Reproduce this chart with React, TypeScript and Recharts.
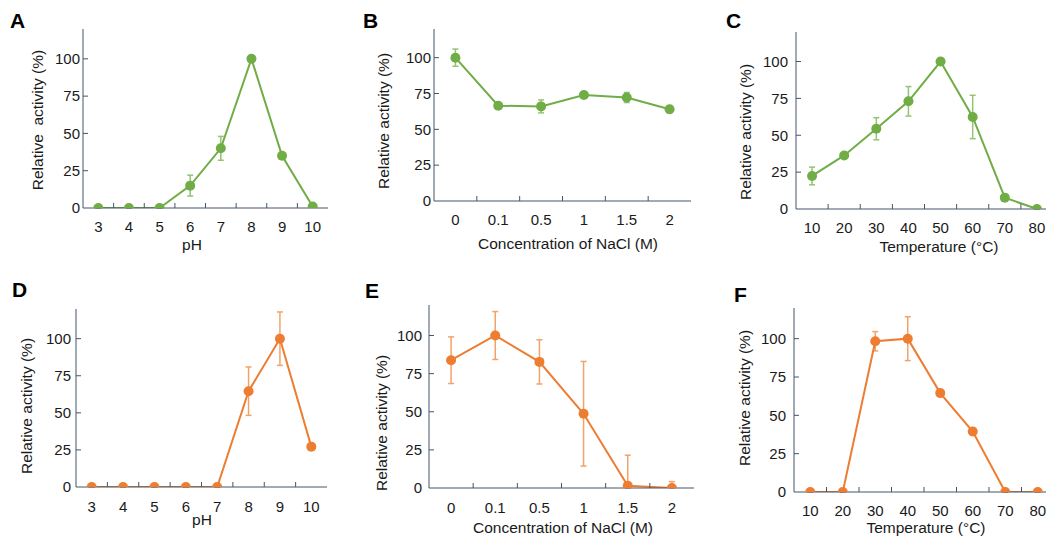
import React from 'react';
import { LineChart, Line, XAxis, YAxis, ErrorBar } from 'recharts';

const GREEN = '#70AD47';
const GREEN_ERR = '#93C472';
const ORANGE = '#ED7D31';
const ORANGE_ERR = '#F2A36B';
const FRAME = '#44546A';
const TEXT = '#1a1a1a';
const FONT = '"Liberation Sans", Arial, sans-serif';

// categories
const phCats = ['3', '4', '5', '6', '7', '8', '9', '10'];
const naclCats = ['0', '0.1', '0.5', '1', '1.5', '2'];
const tempCats = ['10', '20', '30', '40', '50', '60', '70', '80'];
const yTicks = [0, 25, 50, 75, 100];

// series values (relative activity %), error low / high
const aVals = [0, 0, 0, 15, 40, 100, 35, 1];
const aErr = [0, 0, 0, 7, 8, 1, 1, 0];

const bVals = [100, 66.5, 66, 74, 72.2, 64];
const bErr = [6, 1, 4.5, 2, 3.5, 2.5];

const cVals = [22.4, 36.3, 54.4, 73, 100, 62.4, 7.7, 0];
const cErr = [6, 1, 7.5, 10, 2, 14.7, 2, 0];

const dVals = [0, 0, 0, 0, 0, 64.6, 100, 27.2];
const dErr = [0, 0, 0, 0, 0, 16.3, 18, 0];

const eVals = [83.8, 100, 82.7, 48.7, 1.5, 0];
const eErrLow = [15.3, 15.7, 14.5, 34.3, 1.5, 0];
const eErrHigh = [15.3, 15.7, 14.5, 34.3, 20, 4.2];

const fVals = [0, 0, 98.3, 100, 64.5, 39.4, 0, 0];
const fErr = [0, 0, 6.3, 14.3, 1, 2, 0, 0];

const build = (cats: string[], vals: number[], lo: number[], hi: number[]) =>
  cats.map((c, i) => ({ cat: c, v: vals[i], e: [lo[i], hi[i]] }));

type Cfg = {
  letter: string;
  letterPos: [number, number];
  box: [number, number, number, number];
  data: { cat: string; v: number; e: number[] }[];
  color: string;
  errColor: string;
  xTitle: string;
  xTitlePos: [number, number];
  yTitle: string;
  yTitlePos: [number, number];
  xTickMargin: number;
  yTickGap: number;
};

const panels: Cfg[] = [
  {
    letter: 'A', letterPos: [10, 28], box: [83, 29, 328, 208],
    data: build(phCats, aVals, aErr, aErr), color: GREEN, errColor: GREEN_ERR,
    xTitle: 'pH', xTitlePos: [192, 245], yTitle: 'Relative  activity (%)', yTitlePos: [38, 120],
    xTickMargin: 19, yTickGap: 3,
  },
  {
    letter: 'B', letterPos: [363, 28], box: [434, 29, 691, 201],
    data: build(naclCats, bVals, bErr, bErr), color: GREEN, errColor: GREEN_ERR,
    xTitle: 'Concentration of NaCl (M)', xTitlePos: [568, 244], yTitle: 'Relative activity (%)', yTitlePos: [384, 121],
    xTickMargin: 19, yTickGap: 3,
  },
  {
    letter: 'C', letterPos: [726, 28], box: [796, 32, 1053, 209],
    data: build(tempCats, cVals, cErr, cErr), color: GREEN, errColor: GREEN_ERR,
    xTitle: 'Temperature (°C)', xTitlePos: [939, 247], yTitle: 'Relative activity (%)', yTitlePos: [746, 132],
    xTickMargin: 19, yTickGap: 8,
  },
  {
    letter: 'D', letterPos: [12, 297], box: [76, 309, 327, 487],
    data: build(phCats, dVals, dErr, dErr), color: ORANGE, errColor: ORANGE_ERR,
    xTitle: 'pH', xTitlePos: [202, 520], yTitle: 'Relative activity (%)', yTitlePos: [27, 406],
    xTickMargin: 20, yTickGap: 5,
  },
  {
    letter: 'E', letterPos: [365, 298], box: [429, 305, 694, 488],
    data: build(naclCats, eVals, eErrLow, eErrHigh), color: ORANGE, errColor: ORANGE_ERR,
    xTitle: 'Concentration of NaCl (M)', xTitlePos: [563, 528], yTitle: 'Relative activity (%)', yTitlePos: [382, 423],
    xTickMargin: 20, yTickGap: 7,
  },
  {
    letter: 'F', letterPos: [734, 302], box: [794, 308, 1054, 492],
    data: build(tempCats, fVals, fErr, fErr), color: ORANGE, errColor: ORANGE_ERR,
    xTitle: 'Temperature (°C)', xTitlePos: [926, 528], yTitle: 'Relative activity (%)', yTitlePos: [745, 398],
    xTickMargin: 19, yTickGap: 8,
  },
];

const L = 75;
const T = 12;
const R = 10;
const B = 50;

function Panel({ cfg }: { cfg: Cfg }) {
  const [x0, y0, x1, y1] = cfg.box;
  const left = x0 - L;
  const top = y0 - T;
  const w = x1 - x0 + L + R;
  const h = y1 - y0 + T + B;
  const n = cfg.data.length;
  const bw = (x1 - x0) / n;

  const XTick = (props: any) => {
    const { x, y, payload, index } = props;
    const axisY = y - cfg.xTickMargin;
    return (
      <g>
        {index < n - 1 && (
          <line x1={x + bw / 2} x2={x + bw / 2} y1={axisY} y2={axisY - 5} stroke={FRAME} strokeWidth={1} />
        )}
        <text x={x} y={y} dy="0.35em" textAnchor="middle" fontSize={15} fill={TEXT} fontFamily={FONT}>
          {payload.value}
        </text>
      </g>
    );
  };

  const YTick = (props: any) => {
    const { x, y, payload } = props;
    const axisX = x + cfg.yTickGap;
    return (
      <g>
        {payload.value > 0 && <line x1={axisX} x2={axisX + 5} y1={y} y2={y} stroke={FRAME} strokeWidth={1} />}
        <text x={x} y={y} dy="0.35em" textAnchor="end" fontSize={15} fill={TEXT} fontFamily={FONT}>
          {payload.value}
        </text>
      </g>
    );
  };

  return (
    <div style={{ position: 'absolute', left, top, width: w, height: h }}>
      <LineChart width={w} height={h} data={cfg.data} margin={{ top: T, right: R, bottom: 0, left: 0 }}>
        <XAxis
          dataKey="cat"
          type="category"
          height={B}
          interval={0}
          padding={{ left: bw / 2, right: bw / 2 }}
          axisLine={{ stroke: FRAME, strokeWidth: 1 }}
          tickLine={false}
          tickSize={0}
          tickMargin={cfg.xTickMargin}
          tick={<XTick />}
        />
        <XAxis
          xAxisId="top"
          dataKey="cat"
          orientation="top"
          height={0}
          axisLine={{ stroke: FRAME, strokeWidth: 1 }}
          tick={false}
          tickLine={false}
        />
        <YAxis
          width={L}
          domain={[0, 120]}
          allowDataOverflow
          ticks={yTicks}
          interval={0}
          axisLine={{ stroke: FRAME, strokeWidth: 1 }}
          tickLine={false}
          tickSize={0}
          tickMargin={cfg.yTickGap}
          tick={<YTick />}
        />
        <YAxis
          yAxisId="right"
          orientation="right"
          width={0}
          domain={[0, 120]}
          axisLine={{ stroke: FRAME, strokeWidth: 1 }}
          tick={false}
          tickLine={false}
        />
        <Line
          dataKey="v"
          stroke={cfg.color}
          strokeWidth={2}
          dot={{ r: 5, fill: cfg.color, stroke: cfg.color, strokeWidth: 0 }}
          isAnimationActive={false}
        >
          <ErrorBar dataKey="e" direction="y" width={3} stroke={cfg.errColor} strokeWidth={1.5} />
        </Line>
      </LineChart>
    </div>
  );
}

export default function App() {
  return (
    <div
      style={{
        position: 'fixed',
        left: 0,
        top: 0,
        width: 1046,
        height: 538,
        overflow: 'hidden',
        background: '#ffffff',
        fontFamily: FONT,
      }}
    >
      {panels.map((p) => (
        <Panel key={p.letter} cfg={p} />
      ))}
      <svg width={1046} height={538} style={{ position: 'absolute', left: 0, top: 0, pointerEvents: 'none' }}>
        {panels.map((p) => (
          <g key={p.letter}>
            <text x={p.letterPos[0]} y={p.letterPos[1]} fontSize={21} fontWeight="bold" fill="#000" fontFamily={FONT}>
              {p.letter}
            </text>
            <text
              x={p.xTitlePos[0]}
              y={p.xTitlePos[1]}
              dy="0.35em"
              textAnchor="middle"
              fontSize={15.5}
              fill={TEXT}
              fontFamily={FONT}
              style={{ whiteSpace: 'pre' }}
            >
              {p.xTitle}
            </text>
            <text
              x={p.yTitlePos[0]}
              y={p.yTitlePos[1]}
              dy="0.35em"
              textAnchor="middle"
              fontSize={15.5}
              fill={TEXT}
              fontFamily={FONT}
              transform={`rotate(-90 ${p.yTitlePos[0]} ${p.yTitlePos[1]})`}
              style={{ whiteSpace: 'pre' }}
            >
              {p.yTitle}
            </text>
          </g>
        ))}
      </svg>
    </div>
  );
}
